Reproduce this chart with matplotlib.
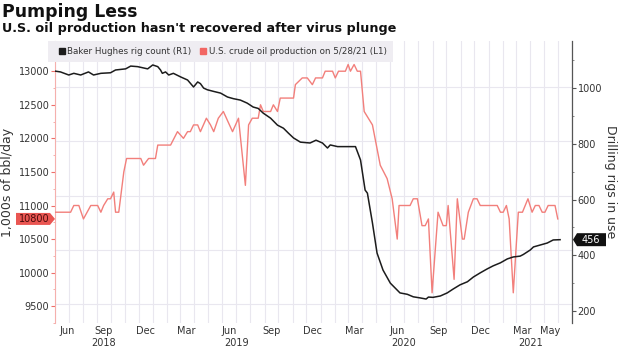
import matplotlib
matplotlib.use('Agg')
import matplotlib.pyplot as plt
import matplotlib.dates as mdates
from matplotlib.transforms import IdentityTransform
from matplotlib.patches import Polygon, Rectangle
from matplotlib.lines import Line2D
import pandas as pd
import numpy as np

plt.rcParams['font.family'] = ['DejaVu Sans']

# U.S. crude oil production, 1,000s of bbl/day (left axis)
oil_dates = [
    '2018-06-01', '2018-07-05', '2018-07-12', '2018-07-23', '2018-08-02', '2018-08-18',
    '2018-09-02', '2018-09-09', '2018-09-15', '2018-09-24', '2018-09-30', '2018-10-07',
    '2018-10-11', '2018-10-18', '2018-10-29', '2018-11-04', '2018-12-05', '2018-12-11',
    '2018-12-22', '2019-01-06', '2019-01-11', '2019-02-08', '2019-02-23', '2019-03-08',
    '2019-03-17', '2019-03-23', '2019-03-30', '2019-04-08', '2019-04-14', '2019-04-27',
    '2019-05-06', '2019-05-13', '2019-05-23', '2019-06-03', '2019-06-23', '2019-07-06',
    '2019-07-21', '2019-07-28', '2019-08-05', '2019-08-18', '2019-08-23', '2019-08-29',
    '2019-09-14', '2019-09-20', '2019-09-29', '2019-10-05', '2019-11-03', '2019-11-07',
    '2019-11-22', '2019-12-03', '2019-12-14', '2019-12-21', '2020-01-05', '2020-01-11',
    '2020-01-27', '2020-02-02', '2020-02-09', '2020-02-24', '2020-03-01', '2020-03-06',
    '2020-03-14', '2020-03-21', '2020-03-28', '2020-04-05', '2020-04-23', '2020-05-10',
    '2020-05-25', '2020-06-05', '2020-06-16', '2020-06-20', '2020-07-14', '2020-07-21',
    '2020-07-30', '2020-08-09', '2020-08-16', '2020-08-23', '2020-08-31', '2020-09-13',
    '2020-09-24', '2020-10-01', '2020-10-05', '2020-10-18', '2020-10-25', '2020-11-05',
    '2020-11-09', '2020-11-18', '2020-11-29', '2020-12-07', '2020-12-14', '2021-01-20',
    '2021-01-27', '2021-02-02', '2021-02-09', '2021-02-15', '2021-02-24', '2021-03-07',
    '2021-03-16', '2021-03-28', '2021-04-06', '2021-04-13', '2021-04-21', '2021-04-28',
    '2021-05-04', '2021-05-11', '2021-05-26', '2021-06-01',
]
oil_values = [
    10900, 10900, 11000, 11000, 10800, 11000,
    11000, 10900, 11000, 11100, 11100, 11200,
    10900, 10900, 11500, 11700, 11700, 11600,
    11700, 11700, 11900, 11900, 12100, 12000,
    12100, 12100, 12200, 12200, 12100, 12300,
    12200, 12100, 12300, 12400, 12100, 12300,
    11300, 12200, 12300, 12300, 12500, 12400,
    12400, 12500, 12400, 12600, 12600, 12800,
    12900, 12900, 12800, 12900, 12900, 13000,
    13000, 12900, 13000, 13000, 13100, 13000,
    13100, 13000, 13000, 12400, 12200, 11600,
    11400, 11100, 10500, 11000, 11000, 11100,
    11100, 10700, 10700, 10800, 9700, 10900,
    10700, 10700, 11000, 9900, 11100, 10500,
    10500, 10900, 11100, 11100, 11000, 11000,
    10900, 10900, 11000, 10800, 9700, 10900,
    10900, 11100, 10900, 11000, 11000, 10900,
    10900, 11000, 11000, 10800,
]

# Baker Hughes rig count (right axis)
rig_dates = [
    '2018-06-01', '2018-06-13', '2018-07-01', '2018-07-12', '2018-07-27', '2018-08-13',
    '2018-08-24', '2018-09-09', '2018-09-30', '2018-10-11', '2018-11-02', '2018-11-13',
    '2018-11-28', '2018-12-20', '2018-12-31', '2019-01-11', '2019-01-17', '2019-01-21',
    '2019-01-28', '2019-02-04', '2019-02-14', '2019-03-02', '2019-03-17', '2019-03-30',
    '2019-04-08', '2019-04-14', '2019-04-21', '2019-04-29', '2019-05-13', '2019-05-28',
    '2019-06-12', '2019-06-25', '2019-07-10', '2019-07-25', '2019-08-07', '2019-08-18',
    '2019-08-29', '2019-09-14', '2019-09-29', '2019-10-12', '2019-10-23', '2019-11-03',
    '2019-11-18', '2019-12-09', '2019-12-22', '2020-01-05', '2020-01-16', '2020-01-22',
    '2020-02-07', '2020-03-17', '2020-03-28', '2020-04-07', '2020-04-12', '2020-04-23',
    '2020-05-03', '2020-05-16', '2020-06-01', '2020-06-22', '2020-07-08', '2020-07-21',
    '2020-08-05', '2020-08-18', '2020-08-23', '2020-09-02', '2020-09-18', '2020-10-03',
    '2020-10-16', '2020-10-31', '2020-11-16', '2020-11-29', '2020-12-14', '2020-12-29',
    '2021-01-11', '2021-01-27', '2021-02-11', '2021-02-24', '2021-03-11', '2021-03-18',
    '2021-04-02', '2021-04-09', '2021-04-24', '2021-05-09', '2021-05-22', '2021-06-06',
]
rig_values = [
    1061, 1058, 1047, 1053, 1047, 1058,
    1047, 1053, 1055, 1065, 1069, 1079,
    1077, 1069, 1083, 1077, 1065, 1053,
    1058, 1047, 1053, 1040, 1029, 1004,
    1022, 1016, 1000, 994, 988, 982,
    968, 962, 957, 946, 932, 927,
    910, 892, 867, 856, 838, 821,
    806, 803, 813, 803, 785, 796,
    790, 790, 742, 634, 623, 516,
    408, 347, 300, 265, 260, 251,
    247, 243, 250, 249, 254, 265,
    279, 294, 305, 322, 337, 351,
    362, 373, 387, 394, 397, 403,
    419, 430, 437, 444, 455, 456,
]

month_ticks = ['2018-06-28', '2018-09-15', '2018-12-15', '2019-03-15', '2019-06-15',
               '2019-09-15', '2019-12-15', '2020-03-15', '2020-06-15', '2020-09-15',
               '2020-12-15', '2021-03-15', '2021-05-15']
month_labels = ['Jun', 'Sep', 'Dec', 'Mar', 'Jun', 'Sep', 'Dec', 'Mar', 'Jun', 'Sep',
                'Dec', 'Mar', 'May']
year_ticks = ['2018-09-15', '2019-07-01', '2020-07-01', '2021-04-02']
year_labels = ['2018', '2019', '2020', '2021']

oil_ticks = np.arange(9500, 13001, 500)
rig_ticks = np.arange(200, 1001, 200)

oil_color = '#f27f7b'
rig_color = '#1c1c1c'
text_color = '#333333'
grid_color = '#e9e7ef'

oil_x = pd.to_datetime(oil_dates)
rig_x = pd.to_datetime(rig_dates)

fig = plt.figure(figsize=(6.2, 3.51), dpi=100)
ax = fig.add_axes([55 / 620, 28 / 351, 517 / 620, 282 / 351])
ax2 = ax.twinx()

oil_lim = (9355, 13450)
rig_lim = (157, 1169)
ax.set_ylim(*oil_lim)
ax2.set_ylim(*rig_lim)
ax.set_xlim(pd.Timestamp('2018-06-01'), pd.Timestamp('2021-07-02'))

# horizontal grid follows the right axis ticks, drawn under both lines
for v in rig_ticks:
    yv = oil_lim[0] + (v - rig_lim[0]) / (rig_lim[1] - rig_lim[0]) * (oil_lim[1] - oil_lim[0])
    ax.axhline(yv, color=grid_color, lw=0.8, zorder=0)

ax.xaxis.set_minor_locator(mdates.MonthLocator())
ax.grid(which='minor', axis='x', color=grid_color, lw=0.8, zorder=0)
ax.set_xticks(pd.to_datetime(month_ticks))
ax.set_xticklabels(month_labels)
ax.tick_params(axis='x', which='both', length=0, pad=2, labelsize=7, labelcolor=text_color)
for d, lab in zip(year_ticks, year_labels):
    ax.text(pd.Timestamp(d), -0.052, lab, transform=ax.get_xaxis_transform(),
            ha='center', va='top', fontsize=7, color=text_color)

ax.plot(oil_x, oil_values, color=oil_color, lw=1.0, zorder=3)
ax2.plot(rig_x, rig_values, color=rig_color, lw=1.1, zorder=3)

ax.set_yticks(oil_ticks)
ax.set_yticks(np.arange(9250, 13451, 250), minor=True)
ax.tick_params(axis='y', which='major', direction='out', length=3, width=0.8,
               color='#ee6f6b', labelsize=7, labelcolor=text_color, pad=1)
ax.tick_params(axis='y', which='minor', direction='out', length=1.5, width=0.6, color='#f3a3a0')

ax2.set_yticks(rig_ticks)
ax2.set_yticks(np.arange(300, 1101, 200), minor=True)
ax2.tick_params(axis='y', which='major', direction='out', length=3, width=0.8,
                color='#555555', labelsize=7, labelcolor=text_color, pad=1)
ax2.tick_params(axis='y', which='minor', direction='out', length=1.5, width=0.6, color='#777777')

for s in ['top', 'right', 'bottom']:
    ax.spines[s].set_visible(False)
ax.spines['left'].set_color('#f5b0ad')
ax.spines['left'].set_linewidth(0.8)
for s in ['top', 'left', 'bottom']:
    ax2.spines[s].set_visible(False)
ax2.spines['right'].set_color('#555555')
ax2.spines['right'].set_linewidth(0.9)

# titles and axis labels
fig.text(2 / 620, 1 - 17 / 351, 'Pumping Less', fontsize=12.4, fontweight='bold',
         color='#111111', va='baseline')
fig.text(2 / 620, 1 - 32 / 351, "U.S. oil production hasn't recovered after virus plunge",
         fontsize=9.2, fontweight='bold', color='#111111', va='baseline')
fig.text(8 / 620, 1 - 182 / 351, '1,000s of bbl/day', rotation=90, fontsize=9,
         color=text_color, ha='center', va='center')
fig.text(611 / 620, 1 - 182 / 351, 'Drilling rigs in use', rotation=270, fontsize=9,
         color=text_color, ha='center', va='center')

# legend background and entries
fig.add_artist(Rectangle((48 / 620, 1 - 62 / 351), (393 - 48) / 620, 21 / 351,
                         transform=fig.transFigure, facecolor='#efedf2', edgecolor='none',
                         zorder=5))
handles = [Line2D([], [], marker='s', ls='none', color=rig_color, markersize=4.5),
           Line2D([], [], marker='s', ls='none', color='#f26663', markersize=4.5)]
leg = fig.legend(handles, ['Baker Hughes rig count (R1)', 'U.S. crude oil production on 5/28/21 (L1)'],
                 loc='center left', bbox_to_anchor=(59 / 620, 1 - 52 / 351),
                 bbox_transform=fig.transFigure, ncol=2, frameon=False, fontsize=6.3,
                 handlelength=0.7, handletextpad=0.25, columnspacing=1.0,
                 borderpad=0, borderaxespad=0, labelcolor='#333333')
leg.set_zorder(6)

# value tags at the axes for the latest readings
fig.canvas.draw()
x_left = ax.transAxes.transform((0, 0))[0]
x_right = ax.transAxes.transform((1, 0))[0]
y_oil = ax.transData.transform((0, oil_values[-1]))[1]
y_rig = ax2.transData.transform((0, rig_values[-1]))[1]

tag = Polygon([(x_left - 39, y_oil - 6), (x_left - 5, y_oil - 6), (x_left, y_oil),
               (x_left - 5, y_oil + 6), (x_left - 39, y_oil + 6)], closed=True,
              transform=IdentityTransform(), facecolor='#ea5652', edgecolor='none', zorder=7)
fig.add_artist(tag)
fig.text(x_left - 21, y_oil, f'{oil_values[-1]}', transform=IdentityTransform(),
         ha='center', va='center', fontsize=7, color='#4a0b0b', zorder=8)

tag2 = Polygon([(x_right + 1, y_rig), (x_right + 5, y_rig - 6.5), (x_right + 34, y_rig - 6.5),
                (x_right + 34, y_rig + 6.5), (x_right + 5, y_rig + 6.5)], closed=True,
               transform=IdentityTransform(), facecolor='#111111', edgecolor='none', zorder=7)
fig.add_artist(tag2)
fig.text(x_right + 19, y_rig, f'{rig_values[-1]}', transform=IdentityTransform(),
         ha='center', va='center', fontsize=7, color='white', zorder=8)

fig.savefig('out.png', dpi=100)
plt.close(fig)
